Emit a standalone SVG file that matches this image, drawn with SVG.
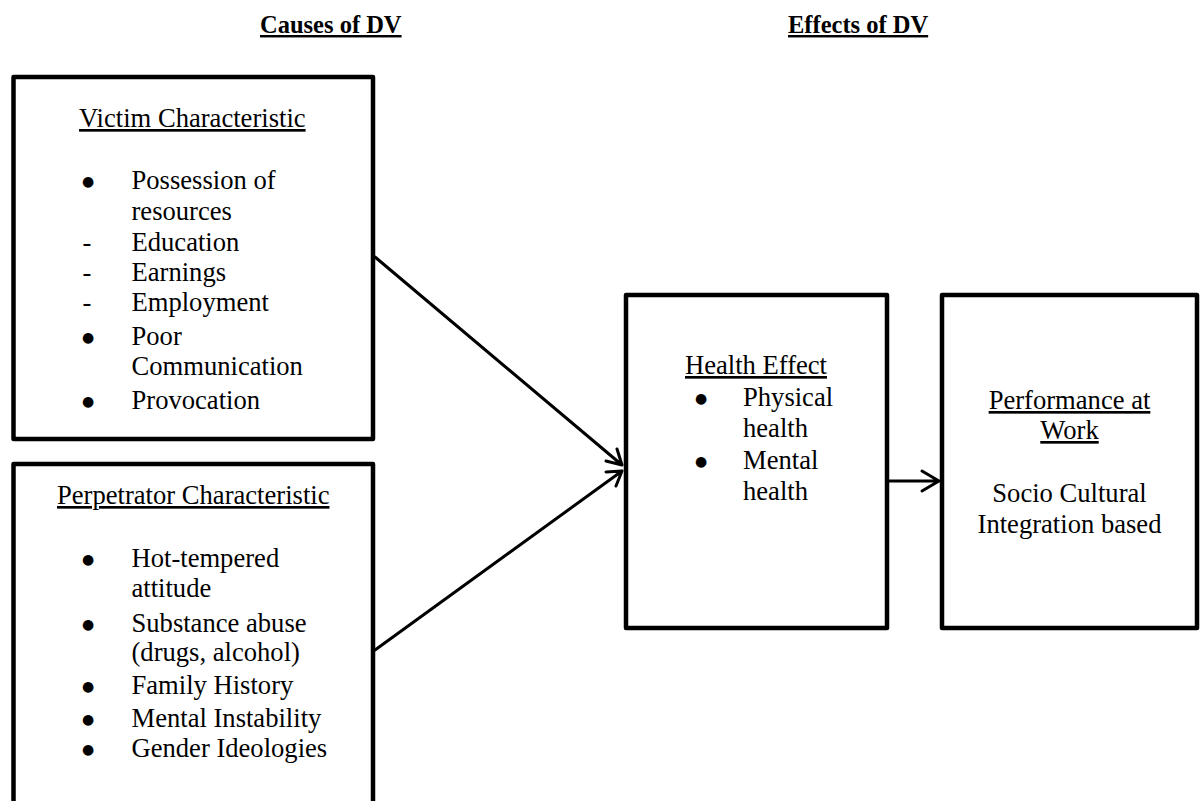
<svg xmlns="http://www.w3.org/2000/svg" width="1201" height="801" viewBox="0 0 1201 801">
<style>
.box{fill:#fff;stroke:#000;stroke-width:4.5;stroke-linejoin:round}
.t{font-family:"Liberation Serif","Times New Roman",serif;font-size:26.6px;fill:#000}
.b{font-family:"DejaVu Sans",sans-serif;font-size:14px;fill:#000;text-anchor:middle}
.u{text-decoration:underline}
.m{text-anchor:middle}
.h{font-family:"Liberation Serif","Times New Roman",serif;font-size:24.5px;font-weight:bold;text-decoration:underline;fill:#000}
.c{fill:none;stroke:#000;stroke-width:3;stroke-linecap:round;stroke-linejoin:round}
</style>
<rect width="1201" height="801" fill="#fff"/>
<g id="headers">
<text class="h" x="260" y="33">Causes of DV</text>
<text class="h" x="788" y="33">Effects of DV</text>
</g>
<g id="victim">
<rect class="box" x="13.5" y="77" width="359.5" height="362"/>
<text class="t u" x="79" y="127">Victim Characteristic</text>
<text class="b" x="88" y="186">●</text><text class="t" x="131.5" y="189">Possession of</text>
<text class="t" x="131.5" y="220">resources</text>
<text class="t m" x="87" y="251">-</text><text class="t" x="131.5" y="251">Education</text>
<text class="t m" x="87" y="281">-</text><text class="t" x="131.5" y="281">Earnings</text>
<text class="t m" x="87" y="311">-</text><text class="t" x="131.5" y="311">Employment</text>
<text class="b" x="88" y="342">●</text><text class="t" x="131.5" y="345">Poor</text>
<text class="t" x="131.5" y="375">Communication</text>
<text class="b" x="88" y="406">●</text><text class="t" x="131.5" y="409">Provocation</text>
</g>
<g id="perpetrator">
<rect class="box" x="13.5" y="464" width="359.5" height="345"/>
<text class="t u" x="57" y="504">Perpetrator Characteristic</text>
<text class="b" x="88" y="564">●</text><text class="t" x="131.5" y="567">Hot-tempered</text>
<text class="t" x="131.5" y="597">attitude</text>
<text class="b" x="88" y="629">●</text><text class="t" x="131.5" y="632">Substance abuse</text>
<text class="t" x="131.5" y="661">(drugs, alcohol)</text>
<text class="b" x="88" y="691">●</text><text class="t" x="131.5" y="694">Family History</text>
<text class="b" x="88" y="724">●</text><text class="t" x="131.5" y="727">Mental Instability</text>
<text class="b" x="88" y="754">●</text><text class="t" x="131.5" y="757">Gender Ideologies</text>
</g>
<g id="health">
<rect class="box" x="626" y="295" width="261" height="333"/>
<text class="t u" x="685" y="374">Health Effect</text>
<text class="b" x="701" y="403">●</text><text class="t" x="743" y="406">Physical</text>
<text class="t" x="743" y="437">health</text>
<text class="b" x="701" y="466">●</text><text class="t" x="743" y="469">Mental</text>
<text class="t" x="743" y="500">health</text>
</g>
<g id="performance">
<rect class="box" x="942" y="295" width="255" height="333"/>
<text class="t u m" x="1069.5" y="409">Performance at</text>
<text class="t u m" x="1069.5" y="439">Work</text>
<text class="t m" x="1069.5" y="502">Socio Cultural</text>
<text class="t m" x="1069.5" y="533">Integration based</text>
</g>
<g id="connectors">
<path class="c" d="M375,257 L622,465 M606,461 L622,465 L617,449"/>
<path class="c" d="M375,650 L622,471 M606,472 L622,471 L616,486"/>
<path class="c" d="M889,481 L939,481 M922,471 L939,481 L922,491"/>
</g>
</svg>
